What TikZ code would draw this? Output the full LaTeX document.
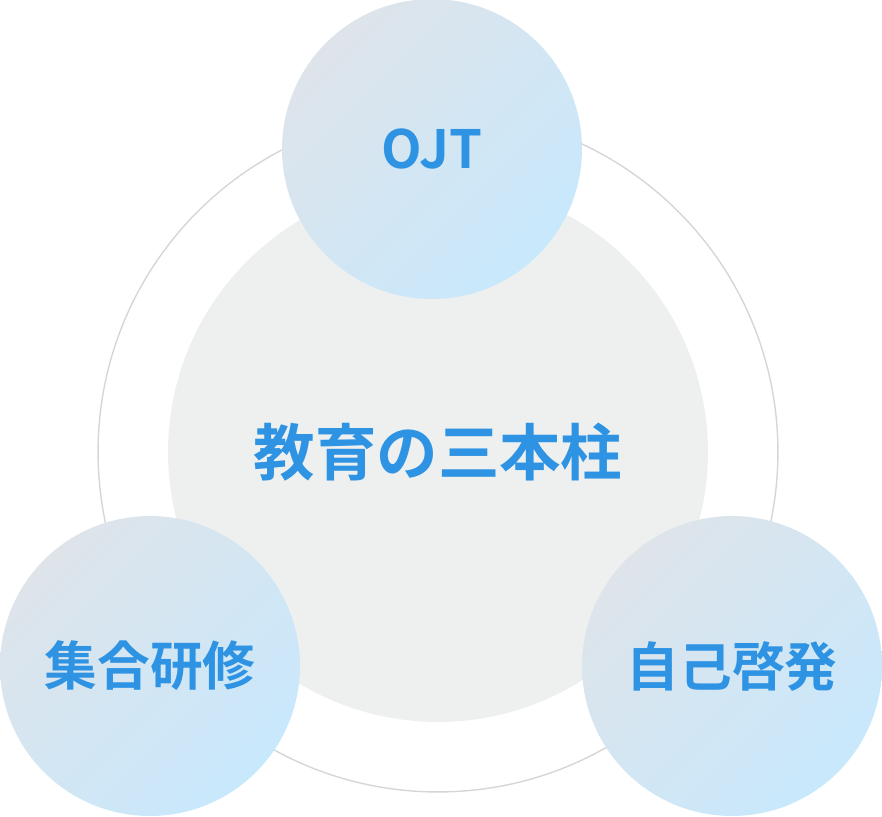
\documentclass[tikz,border=0pt]{standalone}
\usepackage{fontspec}
\newfontfamily\cjk{Noto Sans CJK JP Bold}
\usetikzlibrary{positioning}
\definecolor{pillarblue}{HTML}{2E93E3}
\definecolor{shadegray}{HTML}{DEE4EA}
\definecolor{shadeblue}{HTML}{C8E8FC}
\definecolor{coregray}{HTML}{EEF0F0}
\definecolor{ringgray}{HTML}{D6D6D6}
\begin{document}
\begin{tikzpicture}[x=0.02cm, y=-0.02cm,
    pillar/.style={circle, minimum size=6cm, inner sep=0pt,
      shading=axis, top color=shadegray, bottom color=shadeblue, shading angle=45,
      text=pillarblue, font=\cjk\fontsize{30}{30}\selectfont},
    core/.style={circle, minimum size=10.8cm, inner sep=0pt, fill=coregray,
      text=pillarblue, font=\cjk\fontsize{35}{35}\selectfont}]
  \useasboundingbox (0,0) rectangle (882,816);
  \node[circle, draw=ringgray, line width=0.8pt, minimum size=13.6cm] (ring) at (438,452) {};
  \node[core] (base) at (438,452) {教育の三本柱};
  \node[pillar] (ojt) at (432,149) {OJT};
  \node[pillar] (group) at (150,666) {集合研修};
  \node[pillar] (self) at (732,666) {自己啓発};
\end{tikzpicture}
\end{document}
